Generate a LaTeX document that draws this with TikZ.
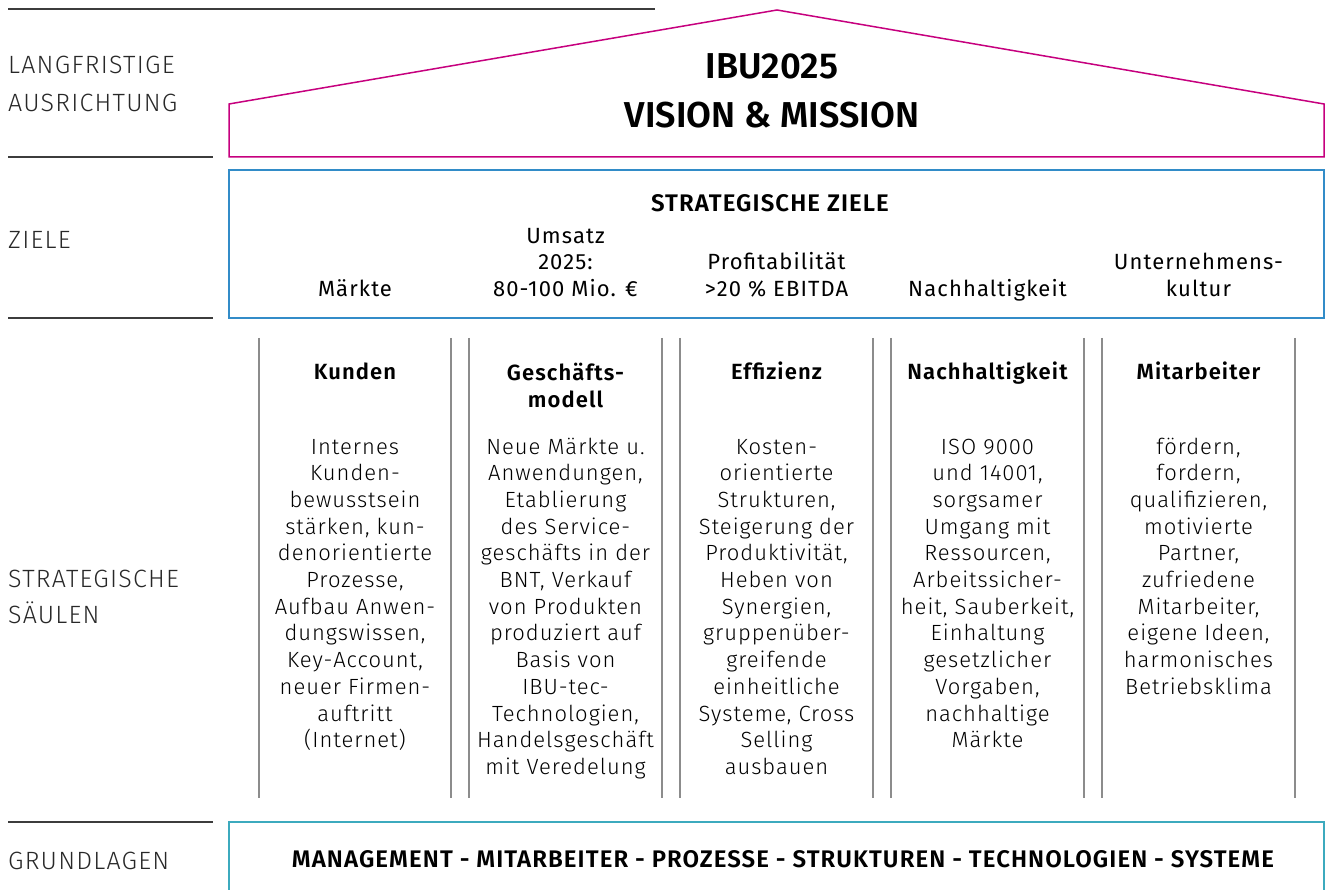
\documentclass[tikz,border=0pt]{standalone}
\usepackage{fontspec}
\setmainfont{Fira Sans Light}[BoldFont={Fira Sans SemiBold}]
\newfontfamily\bodyfam{Fira Sans Light}[LetterSpace=4.5]
\newfontfamily\labelfam{Fira Sans Light}[LetterSpace=5]
\newfontfamily\regfam{Fira Sans}[LetterSpace=5]
\newfontfamily\headfam{Fira Sans SemiBold}[LetterSpace=5]
\newfontfamily\capsfam{Fira Sans SemiBold}[LetterSpace=4.5]
\newfontfamily\titlefam{Fira Sans SemiBold}
\definecolor{roofpink}{RGB}{198,0,126}
\definecolor{zielblue}{RGB}{50,140,200}
\definecolor{grundteal}{RGB}{60,170,190}
\definecolor{pillargray}{RGB}{140,140,140}
\definecolor{rulegray}{RGB}{60,60,60}
\definecolor{labeltext}{RGB}{40,40,40}
\newcommand\labelfnt{\labelfam\fontsize{25}{38}\selectfont}
\newcommand\bodyfnt{\bodyfam\fontsize{22}{26.7}\selectfont}
\newcommand\headfnt{\headfam\fontsize{22}{27}\selectfont}
\newcommand\zielfnt{\regfam\fontsize{22}{26.5}\selectfont}
\newcommand\capsfnt{\capsfam\fontsize{24}{26}\selectfont}
\newcommand\titlefnt{\titlefam\fontsize{36}{49}\selectfont}
\begin{document}
\begin{tikzpicture}[x=1pt,y=-1pt,
  sectline/.style={draw=rulegray, line width=1.5pt},
  rooflines/.style={draw=roofpink, line width=1.5pt},
  zielbox/.style={draw=zielblue, line width=1.5pt},
  grundbox/.style={draw=grundteal, line width=1.5pt},
  pillar/.style={draw=pillargray, line width=1.2pt},
  seclabel/.style={anchor=base west, inner sep=0pt, align=left, font=\labelfnt, text=labeltext},
  colhead/.style={anchor=base, inner sep=0pt, align=center, font=\headfnt},
  colbody/.style={anchor=base, inner sep=0pt, align=center, font=\bodyfnt, text=black},
  zielitem/.style={anchor=base, inner sep=0pt, align=center, font=\zielfnt},
  capshead/.style={anchor=base, inner sep=0pt, font=\capsfnt},
  bighead/.style={anchor=base, inner sep=0pt, align=center, font=\titlefnt}]
\useasboundingbox (0,0) rectangle (1325,890);

% section rules on the left
\draw[sectline] (8,9) -- (655,9);
\draw[sectline] (8,157) -- (213,157);
\draw[sectline] (8,318) -- (213,318);
\draw[sectline] (8,822) -- (213,822);

% section labels (anchor = baseline of last line)
\node[seclabel] (lLang) at (8,112) {LANGFRISTIGE\\AUSRICHTUNG};
\node[seclabel] (lZiele) at (8,249) {ZIELE};
\node[seclabel] (lSaeulen) at (8,623) {STRATEGISCHE\\[-2pt]SÄULEN};
\node[seclabel] (lGrund) at (8,869) {GRUNDLAGEN};

% roof
\draw[rooflines] (229,157) -- (229,104) -- (777,10) -- (1324,104) -- (1324,157) -- cycle;
\node[bighead] (title) at (772,128) {IBU2025\\VISION \& MISSION};

% goals box
\draw[zielbox] (229,170) rectangle (1324,318);
\node[capshead] (zhead) at (770,212) {STRATEGISCHE ZIELE};
\node[zielitem] (zMaerkte) at (355,296.5) {Märkte};
\node[zielitem] (zUmsatz) at (565.5,296.5) {Umsatz\\2025:\\80-100 Mio. €};
\node[zielitem] (zProfit) at (776.5,296.5) {Profitabilität\\>20 \% EBITDA};
\node[zielitem] (zNach) at (987.5,296.5) {Nachhaltigkeit};
\node[zielitem] (zKultur) at (1198.5,296.5) {Unternehmens-\\kultur};

% pillars
\foreach \px in {259,451,469,662,680,873,891,1084,1102,1295}
  \draw[pillar] (\px,338) -- (\px,798);

\node[colhead] (hKunden) at (355,380) {Kunden};
\node[colhead] (hModell) at (565.5,407) {Geschäfts-\\modell};
\node[colhead] (hEffizienz) at (776.5,380) {Effizienz};
\node[colhead] (hNach) at (987.5,380) {Nachhaltigkeit};
\node[colhead] (hMitarb) at (1198.5,380) {Mitarbeiter};

\node[colbody] (bKunden) at (355,747.7) {Internes\\Kunden-\\bewusstsein\\stärken, kun-\\denorientierte\\Prozesse,\\Aufbau Anwen-\\dungswissen,\\Key-Account,\\neuer Firmen-\\auftritt\\(Internet)};
\node[colbody] (bModell) at (565.5,774.4) {Neue Märkte u.\\Anwendungen,\\Etablierung\\des Service-\\geschäfts in der\\BNT, Verkauf\\von Produkten\\produziert auf\\Basis von\\IBU-tec-\\Technologien,\\Handelsgeschäft\\mit Veredelung};
\node[colbody] (bEffizienz) at (776.5,774.4) {Kosten-\\orientierte\\Strukturen,\\Steigerung der\\Produktivität,\\Heben von\\Synergien,\\gruppenüber-\\greifende\\einheitliche\\Systeme, Cross\\Selling\\ausbauen};
\node[colbody] (bNach) at (987.5,747.7) {ISO 9000\\und 14001,\\sorgsamer\\Umgang mit\\Ressourcen,\\Arbeitssicher-\\heit, Sauberkeit,\\Einhaltung\\gesetzlicher\\Vorgaben,\\nachhaltige\\Märkte};
\node[colbody] (bMitarb) at (1198.5,694.3) {fördern,\\fordern,\\qualifizieren,\\motivierte\\Partner,\\zufriedene\\Mitarbeiter,\\eigene Ideen,\\harmonisches\\Betriebsklima};

% foundation
\draw[grundbox] (229,900) -- (229,822) -- (1324,822) -- (1324,900);
\node[capshead] (grund) at (783,867) {MANAGEMENT - MITARBEITER - PROZESSE - STRUKTUREN - TECHNOLOGIEN - SYSTEME};
\end{tikzpicture}
\end{document}
